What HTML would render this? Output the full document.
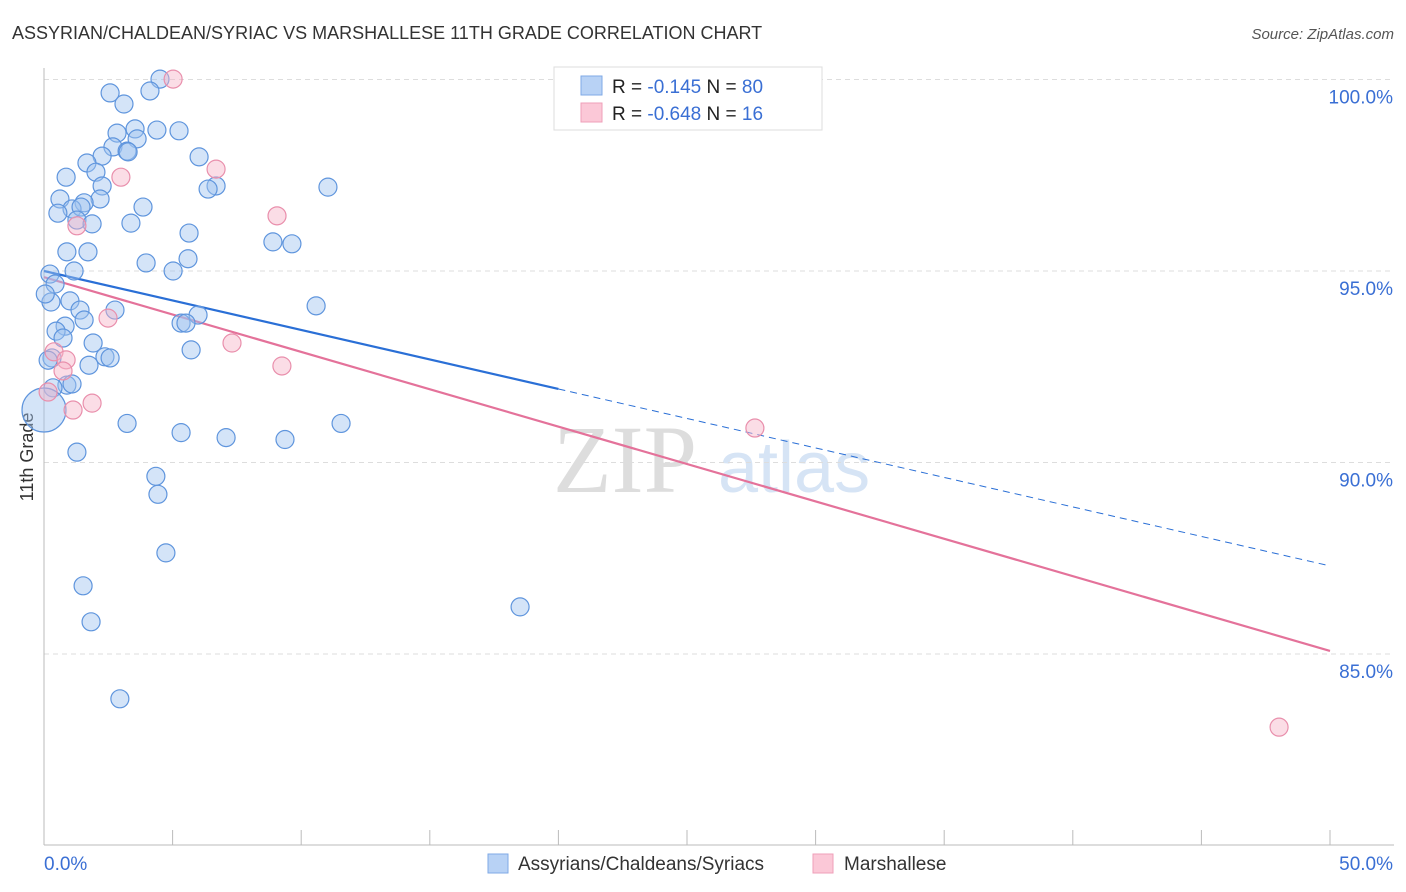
<!DOCTYPE html>
<html><head><meta charset="utf-8"><style>
body{margin:0;background:#fff;font-family:"Liberation Sans",sans-serif;}
svg{display:block}
</style></head><body>
<svg width="1406" height="892" id="chart">
<text x="12" y="39" font-size="18" fill="#333">ASSYRIAN/CHALDEAN/SYRIAC VS MARSHALLESE 11TH GRADE CORRELATION CHART</text>
<text x="1394" y="39" font-size="15" fill="#555" font-style="italic" text-anchor="end">Source: ZipAtlas.com</text>
<text x="33" y="457" font-size="18" fill="#333" transform="rotate(-90 33 457)" text-anchor="middle">11th Grade</text>
<g>
<text x="553" y="492" font-size="96" font-family="Liberation Serif,serif" fill="#ddd">ZIP</text>
<text x="718" y="492" font-size="72" fill="#d6e4f5">atlas</text>
</g>
<g id="grid"></g><g id="axes"></g><g id="lines"></g><g id="pts"></g>
<g>
<rect x="554" y="67" width="268" height="63" fill="#fff" stroke="#ddd"/>
<rect x="581" y="76" width="21" height="19" fill="#b8d2f5" stroke="#7fa9e6"/>
<rect x="581" y="103" width="21" height="19" fill="#fbc8d7" stroke="#ef9fb8"/>
<text x="612" y="93" font-size="19" fill="#222">R = <tspan fill="#3a6fd4"> -0.145</tspan>   N = <tspan fill="#3a6fd4">80</tspan></text>
<text x="612" y="120" font-size="19" fill="#222">R = <tspan fill="#3a6fd4">-0.648</tspan>   N = <tspan fill="#3a6fd4"> 16</tspan></text>
</g>
<g>
<rect x="488" y="854" width="20" height="19" fill="#b8d2f5" stroke="#7fa9e6"/>
<text x="518" y="870" font-size="19" fill="#333">Assyrians/Chaldeans/Syriacs</text>
<rect x="813" y="854" width="20" height="19" fill="#fbc8d7" stroke="#ef9fb8"/>
<text x="844" y="870" font-size="19" fill="#333">Marshallese</text>
</g>
</svg>
<script>
const blueX=[4.51,2.57,4.12,3.11,2.84,3.54,4.39,5.25,3.62,2.68,3.23,2.26,3.27,6.03,1.67,2.02,0.86,2.26,6.69,6.38,11.04,0.62,2.18,1.56,3.85,1.09,0.54,1.44,1.28,1.87,3.38,5.64,8.90,9.64,0.89,1.71,3.97,5.60,5.02,1.17,0.23,0.43,1.01,0.27,10.58,1.40,2.76,1.56,5.99,5.33,5.52,0.82,0.47,0.74,1.91,2.37,2.57,5.72,1.75,0.31,0.89,1.09,0.16,3.23,5.33,7.08,9.37,11.55,1.28,4.35,4.43,4.74,1.52,1.83,2.95,18.51,0.05,0.35,0];
const blueY=[100.01,99.65,99.70,99.36,98.60,98.71,98.68,98.66,98.45,98.24,98.13,98.00,98.11,97.98,97.82,97.58,97.45,97.22,97.22,97.14,97.19,96.88,96.88,96.78,96.67,96.62,96.51,96.67,96.33,96.23,96.25,95.99,95.76,95.71,95.50,95.50,95.21,95.32,95.00,95.00,94.92,94.66,94.22,94.19,94.09,93.98,93.98,93.72,93.85,93.64,93.64,93.56,93.43,93.25,93.12,92.76,92.73,92.94,92.54,92.73,92.02,92.05,92.67,91.02,90.78,90.65,90.60,91.02,90.27,89.64,89.17,87.64,86.78,85.84,83.83,86.23,94.40,91.95,91.37];
const pinkX=[5.02,6.69,2.99,9.06,1.28,2.49,7.31,9.25,0.39,0.86,0.74,1.87,1.13,0.16,27.64,48.02];
const pinkY=[100.01,97.66,97.45,96.44,96.18,93.77,93.12,92.52,92.89,92.68,92.39,91.55,91.37,91.84,90.90,83.09];
const blueTrend=[95.0,87.30]; const pinkTrend=[94.84,85.08];
const yTicks=[100,95,90,85]; const yTickLabels=["100.0%","95.0%","90.0%","85.0%"];
const xTicks=[0,5,10,15,20,25,30,35,40,45,50];
const NS="http://www.w3.org/2000/svg";
const xs=v=>44+v/50*1286, ys=v=>79.5+(100-v)*38.3;
function mk(t,a,p){const e=document.createElementNS(NS,t);for(const k in a)e.setAttribute(k,a[k]);document.getElementById(p).appendChild(e);return e;}
yTicks.forEach((t,i)=>{
 const g=mk('line',{x1:44,x2:1394,y1:ys(t),y2:ys(t),stroke:'#ddd','stroke-dasharray':'5,4'},'grid');
 
 
 const l=mk('text',{x:1393,y:ys(t)+24,'text-anchor':'end','font-size':19,fill:'#3a6fd4'},'axes');l.textContent=yTickLabels[i];
 
 
});
mk('line',{x1:44,x2:44,y1:68,y2:845,stroke:'#bbb'},'axes');
mk('line',{x1:44,x2:1394,y1:845,y2:845,stroke:'#bbb'},'axes');
xTicks.forEach(t=>{const k=mk('line',{x1:xs(t),x2:xs(t),y1:830,y2:845,stroke:'#bbb'},'axes');
 
 });
const x0=mk('text',{x:44,y:870,'font-size':19,fill:'#3a6fd4'},'axes');x0.textContent="0.0%";


const x1=mk('text',{x:1393,y:870,'font-size':19,fill:'#3a6fd4','text-anchor':'end'},'axes');x1.textContent="50.0%";


function drawPts(X,Y,fill,stroke,name){X.forEach((x,i)=>{const r=(name==='blue-point'&&i===X.length-1)?22:9;
 const c=mk('circle',{cx:xs(x),cy:ys(Y[i]),r:r,fill:fill,stroke:stroke,'stroke-width':1.2},'pts');
 
 });}
drawPts(blueX,blueY,'rgba(160,195,240,0.45)','#5f95dd','blue-point');
drawPts(pinkX,pinkY,'rgba(247,180,200,0.45)','#e98fac','pink-point');
const bAt=x=>blueTrend[0]+(blueTrend[1]-blueTrend[0])*x/50;
const b1=mk('line',{x1:xs(0),y1:ys(bAt(0)),x2:xs(20),y2:ys(bAt(20)),stroke:'#2a6fd6','stroke-width':2.2},'lines');


const b2=mk('line',{x1:xs(20),y1:ys(bAt(20)),x2:xs(50),y2:ys(bAt(50)),stroke:'#2a6fd6','stroke-width':1,'stroke-dasharray':'7,5'},'lines');


const p1=mk('line',{x1:xs(0),y1:ys(pinkTrend[0]),x2:xs(50),y2:ys(pinkTrend[1]),stroke:'#e4729a','stroke-width':2.2},'lines');


</script>
</body></html>
